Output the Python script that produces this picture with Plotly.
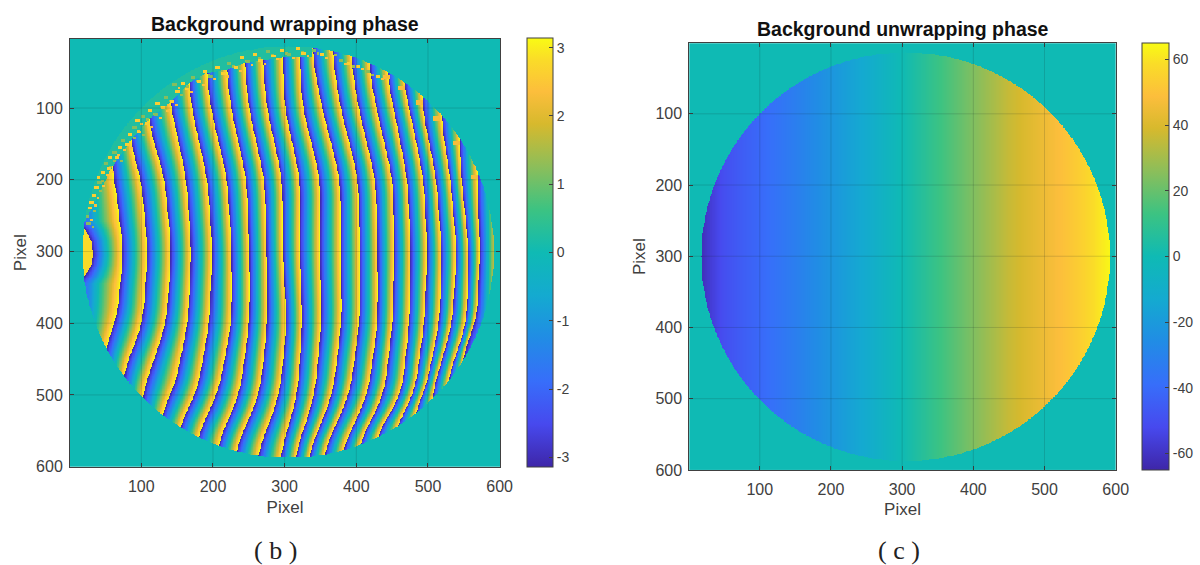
import numpy as np
import plotly.graph_objects as go

title_b = "Background wrapping phase"
title_c = "Background unwrapping phase"
axis_label = "Pixel"
caption_b = "( b )"
caption_c = "( c )"
tick_pixels = [100, 200, 300, 400, 500, 600]
cbar_b_ticks = [-3, -2, -1, 0, 1, 2, 3]
cbar_b_labels = ["-3", "-2", "-1", "0", "1", "2", "3"]
cbar_c_ticks = [-60, -40, -20, 0, 20, 40, 60]
cbar_c_labels = ["-60", "-40", "-20", "0", "20", "40", "60"]

# Fringe (phase-jump) traces of panel b, in Pixel units.
top_tip_x = [58.6, 84, 109, 139.5, 167, 191, 219, 244, 269, 297, 321, 339, 367, 393, 418.5, 443.6, 467, 492, 519, 544, 569]
top_tip_y = [183.6, 147, 117, 93, 65, 51, 47, 37, 33, 30, 29, 29, 29, 37, 50, 61, 75, 99, 121, 158, 210]
row_100 = [None, None, None, 142, 170, 197, 225, 250, 275, 300, 325, 352, 378, 403, 428, 452, 474, None, None, None, None]
row_200 = [63, 100, 133, 163, 192.5, 220, 247, 272, 297, 322, 350, 378, 403, 427, 451, 471.5, 494, 512, 531.5, 547, None]
row_300 = [75, 109, 142, 170, 199.5, 226, 251, 275, 297, 321, 349, 378, 404.5, 430, 453, 476, 499.5, 519, 540, 557, 573]
row_400 = [65.5, 102, 135, 165, 195, 226, 251, 276, 303, 325, 351.5, 379.5, 404.5, 430, 450.6, 474, 495, 516, 534, 554, 568]
row_500 = [None, None, None, 144, 177, 206.5, 237, 265, 293, 318, 342, 367, 390.6, 416, 439, 463, 481, 495, None, None, None]
bottom_tip_x = [49, 74, 100, 125.5, 151, 177, 205, 230, 261, 293, 314, 332, 353, 379, 402, 425.5, 453, 478.5, 505, 526, 548]
bottom_tip_y = [429, 472, 503, 525, 544, 558, 571, 579, 585, 587, 587, 586, 583, 579, 571, 561, 547, 528, 503, 483.5, 441]
lens_y = [258, 270, 285, 305, 320, 334, 345]
lens_x = [10, 22, 30, 33, 30, 22, 10]
last_edge_x = 597

# Speckles seen in the noisy upper-left rim of the disc
speckle_x = [24, 28, 30, 26, 33, 37, 41, 39, 46, 50, 54, 56, 62, 66, 70, 74, 80, 84, 90, 96, 94, 102, 108, 112, 120, 122, 130,
             134, 142, 150, 146, 158, 164, 172, 180, 188, 196, 206, 214, 222, 232, 240, 248, 258, 266, 276, 284, 296, 306,
             318, 326, 340, 352, 364, 378, 390, 402, 416, 430]
speckle_y = [252, 240, 232, 262, 222, 212, 205, 198, 190, 178, 185, 170, 162, 170, 155, 146, 152, 138, 128, 134, 118, 112, 122,
             104, 110, 94, 100, 86, 92, 78, 68, 66, 74, 58, 64, 50, 56, 44, 52, 38, 44, 30, 36, 26, 34, 22, 28, 20, 26,
             18, 24, 20, 26, 22, 34, 38, 42, 50, 56]
# Orange blobs at the tips of the right-hand fringes
blob_x = [442, 463, 488, 512, 540, 565]
blob_y = [56, 72, 92, 114, 148, 196]

# Panel c: phase profile along the horizontal axis
profile_x = [18, 30, 50, 75, 100, 150, 200, 250, 300, 350, 400, 450, 500, 550, 575, 592]
profile_z = [-62, -57, -50, -45, -41, -32, -22, -12, 0, 12, 24, 36, 45, 54, 60, 64]

disc_cx, disc_cy, disc_r = 305, 301, 287

parula = [
    [0.00, "rgb(62,38,168)"], [0.10, "rgb(71,73,238)"], [0.20, "rgb(55,110,250)"],
    [0.30, "rgb(33,140,229)"], [0.40, "rgb(20,170,208)"], [0.50, "rgb(15,186,180)"],
    [0.60, "rgb(60,195,130)"], [0.70, "rgb(140,190,90)"], [0.80, "rgb(215,185,45)"],
    [0.875, "rgb(252,190,60)"], [0.95, "rgb(250,220,40)"], [1.00, "rgb(249,251,20)"],
]

pix = np.arange(1, 601)
gx, gy = np.meshgrid(pix, pix)
disc = (gx - disc_cx) ** 2 + (gy - disc_cy) ** 2 <= disc_r ** 2


def fringe_track(k):
    ys = [top_tip_y[k]]
    xs = [top_tip_x[k]]
    for r, col in zip([100, 200, 300, 400, 500], [row_100, row_200, row_300, row_400, row_500]):
        if col[k] is not None and r > ys[-1] and r < bottom_tip_y[k]:
            ys.append(r)
            xs.append(col[k])
    ys.append(bottom_tip_y[k])
    xs.append(bottom_tip_x[k])
    track = np.interp(pix, ys, xs)
    # soften the kinks between the rows that were read
    win = 61
    pad = np.pad(track, win // 2, mode="edge")
    return np.convolve(pad, np.ones(win) / win, mode="valid")


n = len(top_tip_x)
tracks = np.array([np.interp(pix, lens_y, lens_x)] + [fringe_track(k) for k in range(n)] + [np.full(600, last_edge_x)])
wrapped = np.zeros((600, 600))
for i in range(600):
    edges = np.maximum.accumulate(tracks[:, i] + np.arange(n + 2) * 1e-6)
    u = np.interp(pix, edges, np.arange(n + 2))
    ph = 2 * np.pi * (u - np.floor(u)) - np.pi
    ph[pix < edges[0]] = 2.8
    wrapped[i] = ph

# noisy rim of the upper-left part: above the line through the fringe tips
rim_x = [20] + top_tip_x[:12]
rim_y = [262] + top_tip_y[:12]
rim = (gx < rim_x[-1]) & (gy < np.interp(gx, rim_x, rim_y))
wrapped[rim] = 0.25
for j, (sx, sy) in enumerate(zip(speckle_x, speckle_y)):
    wrapped[sy - 3:sy + 1, sx - 3:sx + 3] = 2.6 if j % 3 else 1.2
    wrapped[sy + 2:sy + 5, sx + 4:sx + 8] = 1.4 if j % 2 else 2.4
for bx, by in zip(blob_x, blob_y):
    wrapped[by - 3:by + 3, bx - 5:bx + 4] = 2.3
wrapped = np.where(disc, np.round(wrapped, 2), 0.0)

unwrapped = np.where(disc, np.round(np.interp(gx, profile_x, profile_z), 1), 0.0)

W, H = 1200, 565
b = dict(l=70, r=500, t=38.5, b=467, cl=527, cw=26)
c = dict(l=689.3, r=1115.7, t=43.3, b=469.9, cl=1142.4, cw=26.6)
FONT = "Liberation Sans"
TXT = "#404040"


def cbar(p, ticks, labels):
    return dict(
        x=p["cl"] / W, xanchor="left", xpad=0, ypad=0,
        y=1 - p["b"] / H, yanchor="bottom", lenmode="fraction", len=(p["b"] - p["t"]) / H,
        thickness=p["cw"], thicknessmode="pixels",
        tickvals=ticks, ticktext=labels, ticks="inside", ticklen=4, tickcolor="#404040", tickwidth=1,
        ticklabelposition="outside", outlinecolor="#404040", outlinewidth=1,
        tickfont=dict(family=FONT, size=14, color=TXT),
    )


fig = go.Figure()
fig.add_trace(go.Heatmap(x=pix, y=pix, z=wrapped, zmin=-3.1416, zmax=3.1416, colorscale=parula,
                         colorbar=cbar(b, cbar_b_ticks, cbar_b_labels), xaxis="x", yaxis="y", hoverinfo="skip"))
fig.add_trace(go.Heatmap(x=pix, y=pix, z=unwrapped, zmin=-65, zmax=65, colorscale=parula,
                         colorbar=cbar(c, cbar_c_ticks, cbar_c_labels), xaxis="x2", yaxis="y2", hoverinfo="skip"))


def axis(dom, rng, anchor, standoff, label_gap):
    return dict(
        domain=dom, range=rng, anchor=anchor, tickvals=tick_pixels, ticks="inside", ticklen=4,
        tickcolor="#404040", showline=True, linecolor="#404040", linewidth=1, mirror="ticks",
        showgrid=False, zeroline=False, layer="above traces", ticklabelstandoff=label_gap,
        tickfont=dict(family=FONT, size=16, color=TXT),
        title=dict(text=axis_label, standoff=standoff, font=dict(family=FONT, size=17, color=TXT)),
    )


fig.update_layout(
    width=W, height=H, autosize=False, margin=dict(l=0, r=0, t=0, b=0, autoexpand=False),
    paper_bgcolor="white", plot_bgcolor="white", showlegend=False,
    xaxis=axis([b["l"] / W, b["r"] / W], [0.5, 600.5], "y", 6, 5),
    yaxis=axis([1 - b["b"] / H, 1 - b["t"] / H], [600.5, 3], "x", 5, 3),
    xaxis2=axis([c["l"] / W, c["r"] / W], [1, 600], "y2", 6, 5),
    yaxis2=axis([1 - c["b"] / H, 1 - c["t"] / H], [600, 1], "x2", 5, 3),
)

for xa, ya in (("x", "y"), ("x2", "y2")):
    for t in tick_pixels[:-1]:
        fig.add_shape(type="line", xref=xa, yref=ya + " domain", x0=t, x1=t, y0=0, y1=1,
                      line=dict(color="rgba(20,40,40,0.16)", width=1))
        fig.add_shape(type="line", xref=xa + " domain", yref=ya, x0=0, x1=1, y0=t, y1=t,
                      line=dict(color="rgba(20,40,40,0.16)", width=1))

anns = [
    (title_b, 285, 24, 19.5, "Liberation Sans", "#111111", True),
    (title_c, 902.5, 29, 19.5, "Liberation Sans", "#111111", True),
    (caption_b, 275, 550, 26, "Liberation Serif", "#222222", False),
    (caption_c, 899, 550, 26, "Liberation Serif", "#222222", False),
]
for text, px, py, size, fam, col, bold in anns:
    fig.add_annotation(text=f"<b>{text}</b>" if bold else text, xref="paper", yref="paper",
                       x=px / W, y=1 - py / H, xanchor="center", yanchor="middle", showarrow=False,
                       font=dict(family=fam, size=size, color=col))

fig.write_html("out.html", config={"displayModeBar": False},
               post_script="document.body.style.margin='0';")
